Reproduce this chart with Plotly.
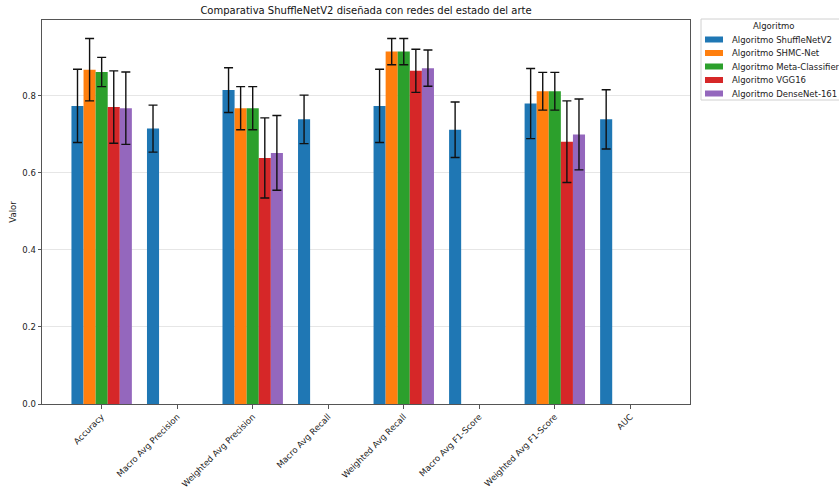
import plotly.graph_objects as go

# Metrics compared across the evaluated networks
metrics = [
    "Accuracy", "Macro Avg Precision", "Weighted Avg Precision", "Macro Avg Recall",
    "Weighted Avg Recall", "Macro Avg F1-Score", "Weighted Avg F1-Score", "AUC",
]

series_names = [
    "Algoritmo ShuffleNetV2",
    "Algoritmo SHMC-Net",
    "Algoritmo Meta-Classifier",
    "Algoritmo VGG16",
    "Algoritmo DenseNet-161",
]

# Mean values per metric (None = metric not reported for that network)
shufflenet = [0.774, 0.715, 0.815, 0.739, 0.774, 0.712, 0.780, 0.739]
shmc_net = [0.868, None, 0.768, None, 0.915, None, 0.812, None]
meta_clf = [0.862, None, 0.768, None, 0.915, None, 0.812, None]
vgg16 = [0.771, None, 0.639, None, 0.865, None, 0.681, None]
densenet = [0.768, None, 0.652, None, 0.872, None, 0.700, None]

# Standard deviations used for the error bars
shufflenet_std = [0.095, 0.061, 0.058, 0.063, 0.095, 0.072, 0.091, 0.077]
shmc_net_std = [0.081, 0, 0.056, 0, 0.034, 0, 0.049, 0]
meta_clf_std = [0.038, 0, 0.056, 0, 0.034, 0, 0.049, 0]
vgg16_std = [0.094, 0, 0.104, 0, 0.056, 0, 0.106, 0]
densenet_std = [0.094, 0, 0.097, 0, 0.047, 0, 0.092, 0]

colors = ["#1f77b4", "#ff7f0e", "#2ca02c", "#d62728", "#9467bd"]

values = [shufflenet, shmc_net, meta_clf, vgg16, densenet]
stds = [shufflenet_std, shmc_net_std, meta_clf_std, vgg16_std, densenet_std]

W, H = 839, 491
L, R, T, B = 42, 690, 20, 404  # plot area in pixels

FONT = "DejaVu Sans, sans-serif"

fig = go.Figure()
for name, vals, err, col in zip(series_names, values, stds, colors):
    fig.add_trace(go.Bar(
        x=metrics, y=vals, name=name,
        marker=dict(color=col, line=dict(width=0)),
        error_y=dict(type="data", array=err, visible=True,
                     color="#111111", thickness=1.4, width=4.5),
        showlegend=False,
    ))


def px_x(p):
    return (p - L) / (R - L)


def px_y(p):
    return (B - p) / (B - T)


# Legend box drawn in paper coordinates
shapes = []
annotations = []
bx0, by0, bx1, by1 = px_x(701), px_y(19), px_x(880), px_y(100)
shapes.append(dict(type="rect", xref="paper", yref="paper",
                   x0=bx0, x1=bx1, y0=by1, y1=by0,
                   line=dict(color="#d0d0d0", width=1), fillcolor="white",
                   layer="above"))
annotations.append(dict(text="Algoritmo", xref="paper", yref="paper",
                        x=px_x(773), y=px_y(26), showarrow=False,
                        xanchor="center", yanchor="middle",
                        font=dict(family=FONT, size=8.5, color="#222")))
for i, (name, col) in enumerate(zip(series_names, colors)):
    cy = 39.5 + i * 13.5
    shapes.append(dict(type="rect", xref="paper", yref="paper",
                       x0=px_x(705), x1=px_x(723),
                       y0=px_y(cy + 3), y1=px_y(cy - 3),
                       line=dict(width=0), fillcolor=col, layer="above"))
    annotations.append(dict(text=name, xref="paper", yref="paper",
                            x=px_x(730), y=px_y(cy), showarrow=False,
                            xanchor="left", yanchor="middle",
                            font=dict(family=FONT, size=8.5, color="#222")))

fig.update_layout(
    width=W, height=H,
    margin=dict(l=L, r=W - R, t=T, b=H - B, autoexpand=False),
    paper_bgcolor="white", plot_bgcolor="white",
    barmode="group", bargap=0.2, bargroupgap=0,
    font=dict(family=FONT, size=8.5, color="#222"),
    title=dict(text="Comparativa ShuffleNetV2 diseñada con redes del estado del arte",
               x=0.5, xref="paper", y=1 - 10 / H, yref="container",
               xanchor="center", yanchor="middle",
               font=dict(family=FONT, size=10, color="#111")),
    xaxis=dict(
        range=[-0.79, 7.79], tickangle=-45,
        showline=True, mirror=True, linecolor="#555", linewidth=1,
        ticks="outside", ticklen=3.5, tickcolor="#555",
        showgrid=False, tickfont=dict(size=8.5),
    ),
    yaxis=dict(
        range=[0, 0.997], tickvals=[0, 0.2, 0.4, 0.6, 0.8], tickformat=".1f",
        showline=True, mirror=True, linecolor="#555", linewidth=1,
        ticks="outside", ticklen=3.5, tickcolor="#555",
        showgrid=True, gridcolor="#e6e6e6", gridwidth=1, zeroline=False,
        title=dict(text="Valor", standoff=4, font=dict(size=8.5)),
        tickfont=dict(size=8.5),
    ),
    shapes=shapes,
    annotations=annotations,
)

fig.write_html("out.html")
